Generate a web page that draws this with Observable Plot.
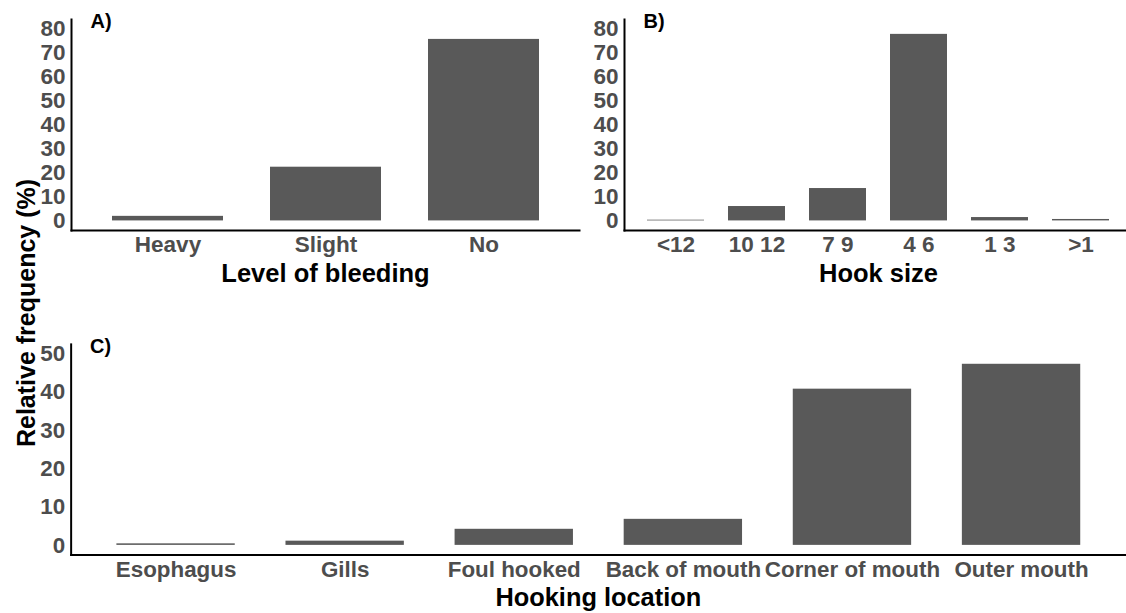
<!DOCTYPE html>
<html><head><meta charset="utf-8">
<script src="https://cdn.jsdelivr.net/npm/d3@7"></script>
<script src="https://cdn.jsdelivr.net/npm/@observablehq/plot@0.6"></script>
<style>
html,body{margin:0;padding:0;background:#fff;overflow:hidden}
#fig{position:relative;width:1126px;height:613px;overflow:hidden;font-family:"Liberation Sans",Arial,Helvetica,sans-serif}
#fig svg{position:absolute;overflow:visible}
#ylab{position:absolute;left:26px;top:313px;transform:translate(-50%,-50%) rotate(-90deg);font-weight:bold;font-size:25px;white-space:nowrap;color:#000}
</style></head><body><div id="fig"><div id="ylab">Relative frequency (%)</div></div>
<script>
// ---- data ----
const bleedingLevels = ["Heavy", "Slight", "No"];
const bleedingFreq = [1.9, 22.4, 75.7];

const hookSizes = ["<12", "10 12", "7 9", "4 6", "1 3", ">1"];
const hookFreq = [0.3, 6.0, 13.5, 77.8, 1.4, 0.6];

const hookLocations = ["Esophagus", "Gills", "Foul hooked", "Back of mouth", "Corner of mouth", "Outer mouth"];
const locationFreq = [0.4, 1.1, 4.2, 6.8, 40.8, 47.3];

const yTicksAB = [0, 10, 20, 30, 40, 50, 60, 70, 80];
const yTicksC = [0, 10, 20, 30, 40, 50];

const titleA = "Level of bleeding", titleB = "Hook size", titleC = "Hooking location";
const tagA = "A)", tagB = "B)", tagC = "C)";

// ---- drawing ----
const FONT = '"Liberation Sans", Arial, Helvetica, sans-serif';
const fig = document.getElementById("fig");

function panel(o) {
  const data = o.cats.map((c, i) => ({cat: c, value: o.vals[i]}));
  const svg = Plot.plot({
    width: o.width, height: o.height,
    marginTop: o.mt, marginBottom: o.mb, marginLeft: o.ml, marginRight: o.mr,
    style: {fontFamily: FONT, background: "transparent", overflow: "visible"},
    x: {domain: o.cats, range: o.xRange, paddingInner: 0.3, paddingOuter: 0.25},
    y: {domain: o.yDomain},
    marks: [
      Plot.barY(data, {x: "cat", y: "value", fill: "#595959"}),
      Plot.frame({anchor: "left", stroke: "black", strokeWidth: 2}),
      Plot.frame({anchor: "bottom", stroke: "black", strokeWidth: 2}),
      Plot.axisY(o.yTicks, {tickSize: 0, tickPadding: 6, stroke: "black",
        fill: "#4d4d4d", fontSize: 22.5, fontWeight: "bold", label: null}),
      Plot.axisX({tickSize: 0, tickPadding: 6, stroke: "black",
        fill: "#4d4d4d", fontSize: 22.5, fontWeight: "bold", label: null}),
      Plot.text([o.title], {frameAnchor: "bottom", dy: o.titleDy, fontSize: 25.5, fontWeight: "bold",
        fill: "black", lineAnchor: "middle"}),
      Plot.text([o.tag], {frameAnchor: "top-left", dx: 19, dy: 2, textAnchor: "start", lineAnchor: "middle",
        fontSize: 20, fontWeight: "bold", fill: "black"})
    ]
  });
  svg.style.left = o.left + "px";
  svg.style.top = o.top + "px";
  fig.appendChild(svg);
}

panel({cats: bleedingLevels, vals: bleedingFreq, yDomain: [-4, 84], yTicks: yTicksAB,
  left: 0, top: 0, width: 580, height: 300, mt: 19, mb: 70, ml: 71, mr: 1,
  xRange: [71, 579], title: titleA, tag: tagA, titleDy: 43});

panel({cats: hookSizes, vals: hookFreq, yDomain: [-4, 84], yTicks: yTicksAB,
  left: 560, top: 0, width: 572, height: 300, mt: 19, mb: 70, ml: 64, mr: 0,
  xRange: [64, 572], title: titleB, tag: tagB, titleDy: 43});

panel({cats: hookLocations, vals: locationFreq, yDomain: [-2.5, 52.5], yTicks: yTicksC,
  left: 0, top: 320, width: 1132, height: 293, mt: 24, mb: 57.3, ml: 71, mr: 1,
  xRange: [71, 1131], title: titleC, tag: tagC, titleDy: 43.6});
</script></body></html>
